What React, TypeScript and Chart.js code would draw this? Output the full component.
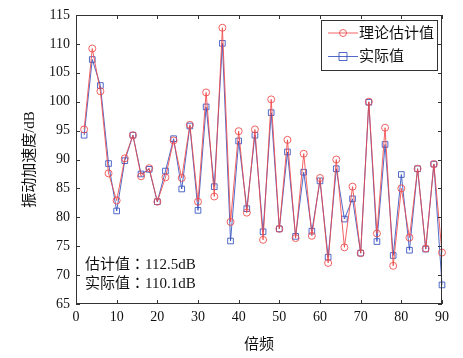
import React, { useEffect, useRef } from "react";
import { Chart, registerables } from "chart.js";

Chart.register(...registerables);

const xValues = [2,4,6,8,10,12,14,16,18,20,22,24,26,28,30,32,34,36,38,40,42,44,46,48,50,52,54,56,58,60,62,64,66,68,70,72,74,76,78,80,82,84,86,88,90];
const theoryValues = [95.2,109.2,101.8,87.6,82.9,90.2,94.2,87.1,88.5,82.7,86.9,93.3,86.8,96.0,82.7,101.6,83.6,112.8,79.2,94.9,80.8,95.2,76.1,100.4,78.0,93.4,76.4,91.0,76.8,86.8,72.1,90.0,74.8,85.3,73.8,100.0,77.2,95.5,71.6,85.0,76.5,88.4,74.6,89.2,73.9];
const actualValues = [94.2,107.3,102.8,89.3,81.1,89.8,94.2,87.5,88.3,82.7,88.0,93.6,84.9,95.8,81.2,99.1,85.3,110.1,75.9,93.2,81.5,94.2,77.5,98.1,78.0,91.3,76.7,87.8,77.6,86.3,73.1,88.4,79.7,83.2,73.8,99.9,75.8,92.6,73.4,87.4,74.3,88.4,74.5,89.2,68.3];
const seriesNames = ["理论估计值", "实际值"];
const annotationLines = ["估计值：112.5dB", "实际值：110.1dB"];
const xTitle = "倍频";
const yTitle = "振动加速度/dB";

const FONT = "'Liberation Serif', 'Noto Sans CJK SC', serif";
const ANNOT_FONT = "'Liberation Serif', 'Noto Sans CJK TC', serif";
const RED = "rgba(240,70,70,0.85)";
const BLUE = "rgba(50,80,190,0.85)";

const framePlugin = {
  id: "frame",
  afterDraw(chart: any) {
    const { ctx, chartArea: a, scales } = chart;
    ctx.save();
    ctx.strokeStyle = "#333";
    ctx.lineWidth = 1;
    ctx.strokeRect(a.left + 0.5, a.top + 0.5, a.right - a.left - 1, a.bottom - a.top - 1);
    const tl = 4;
    scales.x.ticks.forEach((t: any) => {
      const px = Math.round(scales.x.getPixelForValue(t.value)) + 0.5;
      ctx.beginPath();
      ctx.moveTo(px, a.bottom); ctx.lineTo(px, a.bottom - tl);
      ctx.moveTo(px, a.top); ctx.lineTo(px, a.top + tl);
      ctx.stroke();
    });
    scales.y.ticks.forEach((t: any) => {
      const py = Math.round(scales.y.getPixelForValue(t.value)) + 0.5;
      ctx.beginPath();
      ctx.moveTo(a.left, py); ctx.lineTo(a.left + tl, py);
      ctx.moveTo(a.right, py); ctx.lineTo(a.right - tl, py);
      ctx.stroke();
    });
    // legend
    const lx = a.right - 121, ly = a.top + 5, lw = 116, lh = 50;
    ctx.fillStyle = "#fff";
    ctx.fillRect(lx, ly, lw, lh);
    ctx.strokeStyle = "#333";
    ctx.strokeRect(lx + 0.5, ly + 0.5, lw, lh);
    const cols = [RED, BLUE];
    seriesNames.forEach((name, i) => {
      const cy = ly + 13 + i * 23.5;
      ctx.strokeStyle = cols[i];
      ctx.lineWidth = 1;
      ctx.beginPath();
      ctx.moveTo(lx + 7, cy); ctx.lineTo(lx + 37, cy);
      ctx.stroke();
      const mx = lx + 22;
      ctx.beginPath();
      if (i === 0) ctx.arc(mx, cy, 3.5, 0, Math.PI * 2);
      else ctx.rect(mx - 4, cy - 4, 8, 8);
      ctx.stroke();
      ctx.fillStyle = "#111";
      ctx.font = "15px " + FONT;
      ctx.textBaseline = "middle";
      ctx.textAlign = "left";
      ctx.fillText(name, lx + 38, cy + 1);
    });
    // annotation
    ctx.fillStyle = "#111";
    ctx.font = "15px " + ANNOT_FONT;
    ctx.textBaseline = "middle";
    ctx.textAlign = "left";
    annotationLines.forEach((s, i) => {
      ctx.fillText(s, a.left + 9, a.bottom - 39 + i * 19);
    });
    ctx.restore();
  },
};

export default function App() {
  const ref = useRef<HTMLCanvasElement>(null);
  useEffect(() => {
    if (!ref.current) return;
    const mk = (vals: number[]) => xValues.map((x, i) => ({ x, y: vals[i] }));
    const chart = new Chart(ref.current, {
      type: "line",
      data: {
        datasets: [
          {
            label: seriesNames[0],
            data: mk(theoryValues),
            borderColor: RED,
            backgroundColor: "transparent",
            borderWidth: 1,
            pointStyle: "circle",
            pointRadius: 3.5,
            pointBorderWidth: 1,
            pointBorderColor: RED,
            pointBackgroundColor: "transparent",
            clip: false,
          },
          {
            label: seriesNames[1],
            data: mk(actualValues),
            borderColor: BLUE,
            backgroundColor: "transparent",
            borderWidth: 1,
            pointStyle: "rect",
            pointRadius: 4,
            pointBorderWidth: 1,
            pointBorderColor: BLUE,
            pointBackgroundColor: "transparent",
            clip: false,
          },
        ],
      },
      options: {
        animation: false,
        responsive: false,
        maintainAspectRatio: false,
        layout: { padding: { top: 15, right: 21, left: 0, bottom: 0 } },
        plugins: { legend: { display: false }, tooltip: { enabled: false } },
        scales: {
          x: {
            type: "linear",
            min: 0,
            max: 90,
            ticks: { stepSize: 10, color: "#111", font: { family: FONT, size: 14 }, padding: 5, maxRotation: 0 },
            grid: { display: false, drawTicks: false },
            border: { display: false },
            title: { display: true, text: xTitle, color: "#111", font: { family: FONT, size: 15 }, padding: { top: 10 } },
            afterFit: (s: any) => { s.height = 54; },
          },
          y: {
            min: 65,
            max: 115,
            ticks: { stepSize: 5, color: "#111", font: { family: FONT, size: 14 }, padding: 6 },
            grid: { display: false, drawTicks: false },
            border: { display: false },
            title: { display: true, text: yTitle, color: "#111", font: { family: FONT, size: 15 }, padding: { top: 21, bottom: 4 } },
            afterFit: (s: any) => { s.width = 76; },
          },
        },
      },
      plugins: [framePlugin],
    });
    return () => chart.destroy();
  }, []);
  return (
    <div style={{ position: "fixed", left: 0, top: 0, width: 463, height: 358, background: "#fff" }}>
      <canvas ref={ref} width={463} height={358} />
    </div>
  );
}
